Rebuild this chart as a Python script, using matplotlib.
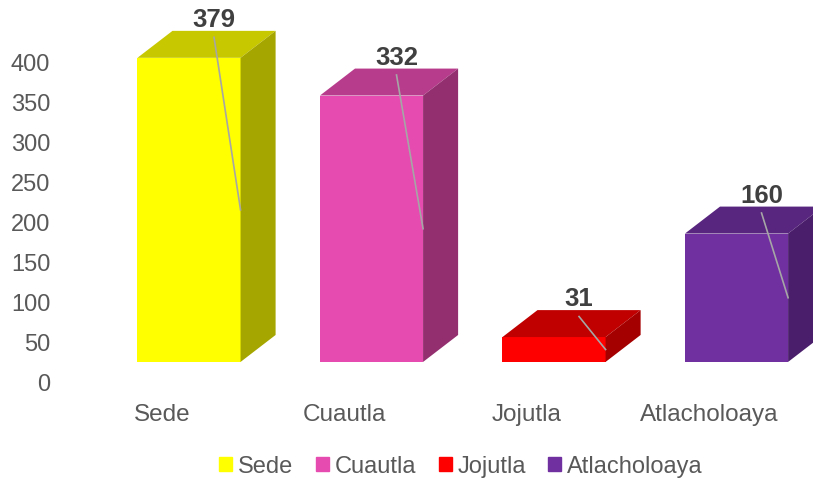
import matplotlib.pyplot as plt
from matplotlib.patches import Polygon

plt.rcParams['font.family'] = ['Liberation Sans', 'DejaVu Sans']

# data
categories = ['Sede', 'Cuautla', 'Jojutla', 'Atlacholoaya']
values = [379, 332, 31, 160]
front_colors = ['#FFFF00', '#E64BAF', '#FF0000', '#7030A0']
top_colors = ['#C8C800', '#B83C8C', '#C00000', '#58257F']
side_colors = ['#A6A600', '#932F6F', '#A50000', '#4A1E6B']
yticks = [0, 50, 100, 150, 200, 250, 300, 350, 400]

# fake 3d geometry (data units)
floor = 25
width = 0.565
dx = 0.192
dy = 33.6

fig = plt.figure(figsize=(8.13, 4.81), dpi=100)
ax = fig.add_axes([60 / 813, 98 / 481, 753 / 813, 383 / 481])
ax.set_xlim(-0.7068, 3.419)
ax.set_ylim(0, 477.3)

xs = list(range(len(categories)))
bars = ax.bar(xs, values, bottom=floor, width=width, color=front_colors, zorder=3)

for x, v, tc, sc in zip(xs, values, top_colors, side_colors):
    l, r = x - width / 2, x + width / 2
    top = floor + v
    ax.add_patch(Polygon([(l, top), (r, top), (r + dx, top + dy), (l + dx, top + dy)],
                         closed=True, facecolor=tc, edgecolor='none', zorder=3))
    ax.add_patch(Polygon([(r, floor), (r + dx, floor + dy), (r + dx, top + dy), (r, top)],
                         closed=True, facecolor=sc, edgecolor='none', zorder=3))
    # data label with leader line
    lx = x + 0.137
    ly = top + dy + 15
    ax.text(lx, ly, str(v), ha='center', va='center', fontsize=18.5,
            fontweight='bold', color='#404040', zorder=5)
    ax.plot([lx, r], [ly - 23, floor + v / 2], color='#A6A6A6', lw=1.2, zorder=4)

ax.set_yticks(yticks)
ax.set_yticklabels([str(t) for t in yticks])
ax.set_xticks([x - 0.148 for x in xs])
ax.set_xticklabels(categories)
ax.tick_params(axis='y', length=0, pad=7, labelsize=17, labelcolor='#595959')
ax.tick_params(axis='x', length=0, pad=15, labelsize=17.5, labelcolor='#595959')
for s in ax.spines.values():
    s.set_visible(False)

handles = [plt.Rectangle((0, 0), 1, 1, color=c) for c in front_colors]
fig.legend(handles, categories, loc='center', bbox_to_anchor=(461 / 813, 14 / 481),
           ncol=4, frameon=False, fontsize=17, handlelength=0.55, handleheight=0.55,
           handletextpad=0.25, columnspacing=0.95, labelcolor='#595959')

fig.savefig('out.png', dpi=100)
